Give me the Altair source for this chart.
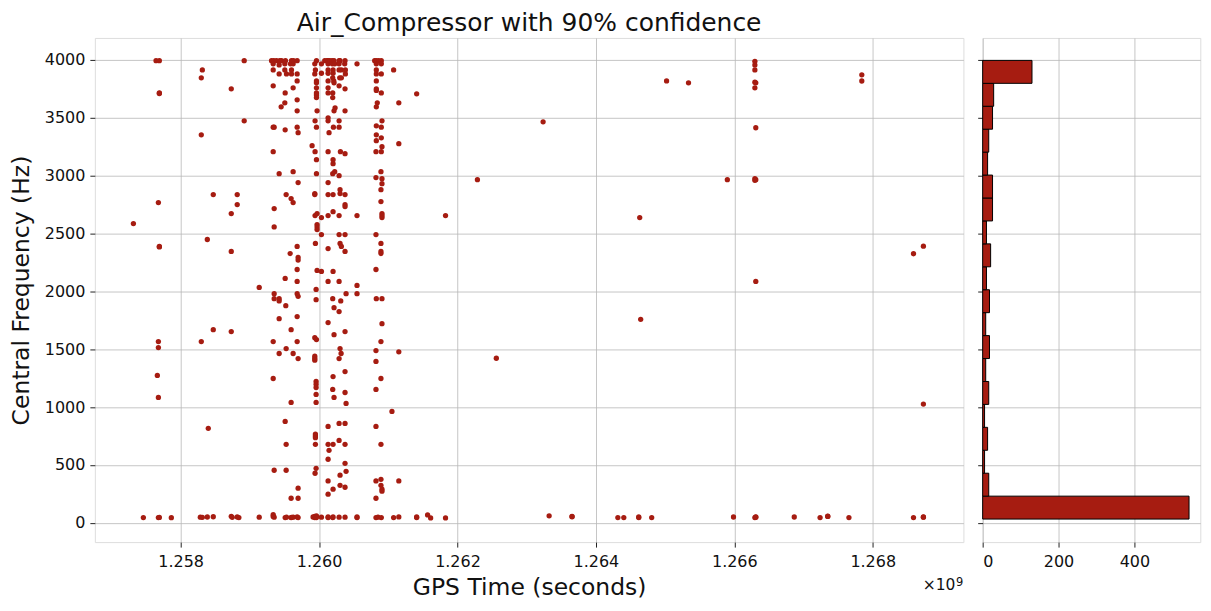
import altair as alt
import pandas as pd

# ---- scatter data: GPS times (s) and the central frequencies (Hz) seen at each time ----
column_times = [
    1257317000, 1257461000, 1257644000, 1257663000, 1257678000, 1257692000, 1257865000,
    1258284000, 1258298000, 1258313000, 1258385000, 1258399000, 1258471000, 1258731000,
    1258745000, 1258817000, 1258841000, 1258918000, 1259135000, 1259313000, 1259337000,
    1259346000, 1259351000, 1259385000, 1259423000, 1259433000, 1259452000, 1259457000,
    1259505000, 1259510000, 1259514000, 1259519000, 1259524000, 1259529000, 1259582000,
    1259587000, 1259596000, 1259601000, 1259625000, 1259630000, 1259683000, 1259697000,
    1259899000, 1259913000, 1259938000, 1259942000, 1259947000, 1259957000, 1259962000,
    1259971000, 1260034000, 1260082000, 1260115000, 1260130000, 1260144000, 1260154000,
    1260188000, 1260192000, 1260197000, 1260202000, 1260207000, 1260212000, 1260216000,
    1260226000, 1260231000, 1260289000, 1260298000, 1260303000, 1260308000, 1260313000,
    1260318000, 1260322000, 1260370000, 1260375000, 1260380000, 1260390000, 1260548000,
    1260803000, 1260822000, 1260827000, 1260841000, 1260851000, 1260861000, 1260894000,
    1260899000, 1260909000, 1261053000, 1261077000, 1261152000, 1261410000, 1261568000,
    1261612000, 1261827000, 1262288000, 1262561000, 1263237000, 1263324000, 1263655000,
    1264317000, 1264403000, 1264619000, 1264633000, 1264647000, 1264806000, 1265021000,
    1265338000, 1265899000, 1265988000, 1266297000, 1266310000, 1266866000, 1267239000,
    1267350000, 1267656000, 1267842000, 1268589000, 1268732000,
]
column_freqs = [
    [2586], [45], [3994], [1273], [2767, 1566, 1514, 1083, 45], [3994, 3715, 3710, 2388, 2384, 46], [44],
    [48], [3845, 3353, 1566], [3914, 47], [2448, 50], [816], [2836, 1669, 52], [3750, 2672, 2345, 1652, 56],
    [47], [2836, 2750, 50], [45], [3994, 3474], [2034, 48], [3994], [3966, 3914, 3776, 3419, 3207, 1566, 1247, 55, 70],
    [3994], [3419, 2715, 2557, 1980, 1937, 454, 48], [3994], [3957, 3879, 3017, 1937, 1917, 1764, 1463], [3994], [3595], [3994],
    [3966, 3914, 3629], [3715, 3396, 2112, 876, 45], [3994], [1876], [2836, 1506, 678, 454], [3879, 48], [2327],
    [3966], [2802, 1669, 1040, 212, 45], [3994, 3914, 3879, 46], [3966, 3759, 3034, 2767, 1463, 48], [3994],
    [3994, 3879, 3819, 3655, 3560, 3419, 2388, 2189, 2086, 1980, 1782, 1566, 50],
    [3371, 2940, 2293, 2270, 1957, 1419, 299, 212, 45],
    [3259], [50], [3966, 3879, 2845, 2836, 1600, 1440, 1420, 1405, 45, 55], [3474, 3207, 2655, 428],
    [3914, 2414, 767, 750, 735, 678], [2017, 1928, 1221, 1198, 1169, 1109, 1040, 471],
    [3994, 3819, 3802, 3759, 3715, 3698, 3675, 3419, 3138, 3017, 1583, 60, 45],
    [3560, 2672, 2577, 2557, 2534, 2181], [3966, 3885, 2638, 2491, 2172, 48], [3994], [3994],
    [3994, 3966, 3914, 3885, 3819, 3759, 3715, 3500, 3474, 3207, 2940, 2836, 2655, 2370, 2086, 1730, 833, 678, 549, 362, 247, 50, 45],
    [3371, 626], [3994],
    [3994], [3966], [3845, 3715, 3675, 3017, 1937, 1152, 45], [3914, 3885, 3138, 3103, 2836, 2689, 2172, 1264, 678, 290, 50],
    [3419], [3819], [3994, 3802, 3560, 1859, 1626, 1083],
    [3966, 3034], [3586], [3994, 3966, 3914, 3776, 3474, 3419, 3000, 2655, 2491, 2086, 1825, 1419, 859, 712, 48],
    [3845], [3994, 2879, 2845, 2414, 1506, 411, 324], [3207], [1917],
    [1463], [3914, 3845, 2388], [3966],
    [3994, 3750, 3560, 3190, 2836, 2750, 2733, 2491, 2345, 1652, 1307, 1126, 859, 678, 514, 307, 48],
    [3914, 3879], [1980, 1031, 445], [3966, 2655, 2051, 1980, 50, 45],
    [3994], [3207, 2983, 2491, 2189, 1488, 1394, 1152, 833, 362, 212, 45],
    [3994, 3966, 3914, 3879, 3819, 3750, 3736, 3595, 3431, 3353, 3302, 1937], [3629], [48], [3994],
    [3034, 2879, 2776, 2414, 2345, 2327, 1566, 1247, 678, 376, 324],
    [3994, 3966, 3879, 3715, 3419, 3327, 3207, 45],
    [3474, 3250, 2974, 2931, 2672, 2655, 2638, 1937, 1721, 290, 273],
    [962], [3914, 45], [3629, 3276, 1477, 362, 51], [3707, 50, 45], [68],
    [42], [2655, 42], [2965], [1422], [3465], [60], [55, 52],
    [45], [45], [50, 45], [2638], [1758], [45], [3819],
    [3802], [2965], [50], [3988, 3957, 3914, 3807, 3759, 2975, 2960, 45], [3802, 3414, 2965, 2086, 50, 48], [50], [45],
    [57, 55], [45], [3871, 3818], [2325, 45], [2390, 1026, 50, 48],
]

# ---- histogram of central frequency (20 bins) ----
hist_edges = [32, 230.2, 428.4, 626.6, 824.8, 1023, 1221.2, 1419.4, 1617.6, 1815.8, 2014,
              2212.2, 2410.4, 2608.6, 2806.8, 3005, 3203.2, 3401.4, 3599.6, 3797.8, 3996]
hist_counts = [544, 16, 5, 13, 5, 16, 8, 18, 8, 18, 10, 21, 10, 26, 26, 13, 16, 26, 29, 130]

# ---- axis ticks ----
x_ticks = [1258000000, 1260000000, 1262000000, 1264000000, 1266000000, 1268000000]
y_ticks = [0, 500, 1000, 1500, 2000, 2500, 3000, 3500, 4000]
count_ticks = [0, 200, 400]

RED = "#a61c11"
FONT = "DejaVu Sans"

rows_t, rows_f = [], []
for t, fs in zip(column_times, column_freqs):
    for f in fs:
        rows_t.append(t)
        rows_f.append(f)
scatter_df = pd.DataFrame({"time": rows_t, "freq": rows_f})

hist_df = pd.DataFrame({
    "lo": hist_edges[:-1],
    "hi": hist_edges[1:],
    "count": hist_counts,
    "zero": [0] * len(hist_counts),
})

y_scale = alt.Scale(domain=[-167, 4190], nice=False, zero=False)

common_axis = dict(
    labelFont=FONT, labelFontSize=16, labelColor="#111",
    titleFont=FONT, titleFontSize=23.5, titleFontWeight="normal", titleColor="#111",
    tickColor="#222", tickSize=5, domain=False,
    gridColor="#b8b8b8", gridWidth=0.8,
)

points = alt.Chart(scatter_df).mark_circle(size=28, color=RED, opacity=1).encode(
    x=alt.X("time:Q",
            scale=alt.Scale(domain=[1256760000, 1269310000], nice=False, zero=False),
            axis=alt.Axis(values=x_ticks, labelExpr="format(datum.value / 1e9, '.3f')",
                          title="GPS Time (seconds)", labelPadding=6, titlePadding=6,
                          **common_axis)),
    y=alt.Y("freq:Q", scale=y_scale,
            axis=alt.Axis(values=y_ticks, format="d", title="Central Frequency (Hz)",
                          labelPadding=5, titlePadding=10.5, **common_axis)),
)

offset_df = pd.DataFrame({"base": ["×10"], "power": ["9"]})
offset_base = alt.Chart(offset_df).mark_text(
    align="right", baseline="alphabetic", font=FONT, fontSize=15.5, color="#111"
).encode(x=alt.value(862), y=alt.value(552.7), text="base:N")
offset_power = alt.Chart(offset_df).mark_text(
    align="right", baseline="alphabetic", font=FONT, fontSize=11.5, color="#111"
).encode(x=alt.value(870), y=alt.value(548.5), text="power:N")

main = alt.layer(points, offset_base, offset_power).properties(
    width=870, height=505,
    title=alt.TitleParams("Air_Compressor with 90% confidence", font=FONT, fontSize=25,
                          fontWeight="normal", color="#111", offset=2),
)

bars = alt.Chart(hist_df).mark_rect(color=RED, stroke="black", strokeWidth=1).encode(
    x=alt.X("zero:Q", scale=alt.Scale(domain=[0, 573.7], nice=False),
            axis=alt.Axis(values=count_ticks, title=None, labelPadding=6, **common_axis)),
    x2="count:Q",
    y=alt.Y("lo:Q", scale=y_scale,
            axis=alt.Axis(values=y_ticks, title=None, labels=False, **common_axis)),
    y2="hi:Q",
).properties(width=218, height=505)

chart = alt.hconcat(main, bars, spacing=19.3, bounds="flush").properties(
    padding={"left": 1, "top": 1.5, "right": 2, "bottom": 2}
).configure_view(stroke="#808080", strokeWidth=1).configure(background="white")

chart.save("out.html", embed_options={"renderer": "svg", "actions": False})
